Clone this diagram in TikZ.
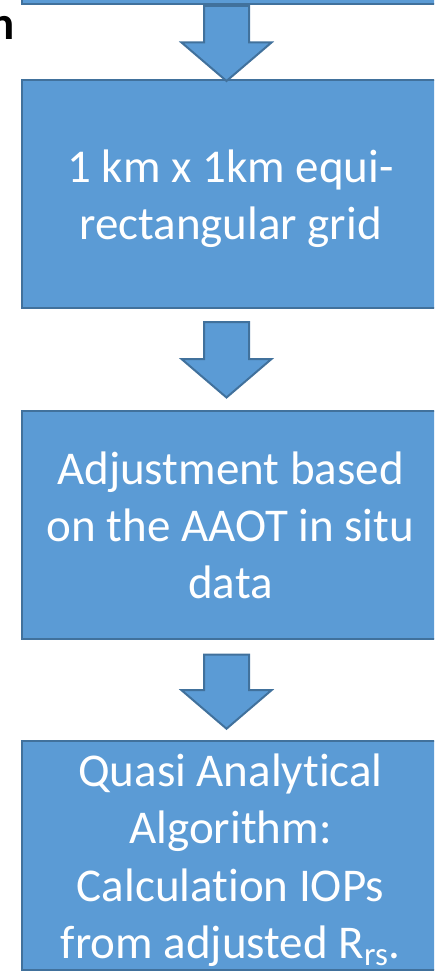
\documentclass[tikz,border=0pt]{standalone}
\usepackage{fontspec}
\setmainfont{Carlito}[Ligatures={NoCommon}]
\usetikzlibrary{calc}

\definecolor{boxfill}{HTML}{5B9BD5}
\definecolor{boxline}{HTML}{41719C}

% strut giving each line the full ascent+gap / descent of the font
\newcommand\linestrut{\rule[-0.25em]{0pt}{1.221em}}

\tikzset{
  flowbox/.style={rectangle, draw=boxline, fill=boxfill, line width=2pt,
    minimum width=417pt, minimum height=228pt, inner sep=0pt,
    align=center, text=white, font=\fontsize{47}{57.4}\selectfont},
  blockarrow/.style={draw=boxline, fill=boxfill, line width=2pt, line join=miter},
}

% wide downward block arrow from the top point #1 to the tip #2
\newcommand\downblock[2]{%
  \draw[blockarrow] let \p1=(#1), \p2=(#2) in
    (\x1-22.5pt,\y1) -- (\x1+22.5pt,\y1) -- (\x1+22.5pt,\y2+38.5pt)
    -- (\x1+45pt,\y2+38.5pt) -- (\x1,\y2) -- (\x1-45pt,\y2+38.5pt)
    -- (\x1-22.5pt,\y2+38.5pt) -- cycle;}

\begin{document}
\begin{tikzpicture}[x=1pt,y=-1pt]
  \useasboundingbox (0,0) rectangle (434,973);
  \clip (0,0) rectangle (434,973);

  % trailing letter of a heading on the left
  \node[anchor=base east, inner sep=0pt, font=\fontsize{47}{57.4}\selectfont\bfseries]
    (head) at (15,40) {n};

  % process boxes
  \node[flowbox] (b1) at (230.5,-110) {};
  \node[flowbox] (b2) at (230.5,194)
    {\linestrut 1 km x 1km equi-\\\linestrut rectangular grid};
  \node[flowbox] (b3) at (230.5,524.5)
    {\linestrut Adjustment based\\\linestrut on the AAOT in situ\\\linestrut data};
  \node[flowbox] (b4) at (230.5,855.5)
    {\linestrut Quasi Analytical\\\linestrut Algorithm:\\\linestrut Calculation IOPs\\
     \linestrut from adjusted R\textsubscript{rs}.};

  % arrow end points
  \coordinate (t1) at ($(b1.south)+(-4,1)$);
  \coordinate (h1) at ($(b2.north)+(-4,2)$);
  \coordinate (t2) at ($(b2.south)+(-4,13)$);
  \coordinate (h2) at ($(b3.north)+(-4,-12)$);
  \coordinate (t3) at ($(b3.south)+(-4,15)$);
  \coordinate (h3) at ($(b4.north)+(-4,-11)$);

  \downblock{t1}{h1}
  \downblock{t2}{h2}
  \downblock{t3}{h3}
\end{tikzpicture}
\end{document}
